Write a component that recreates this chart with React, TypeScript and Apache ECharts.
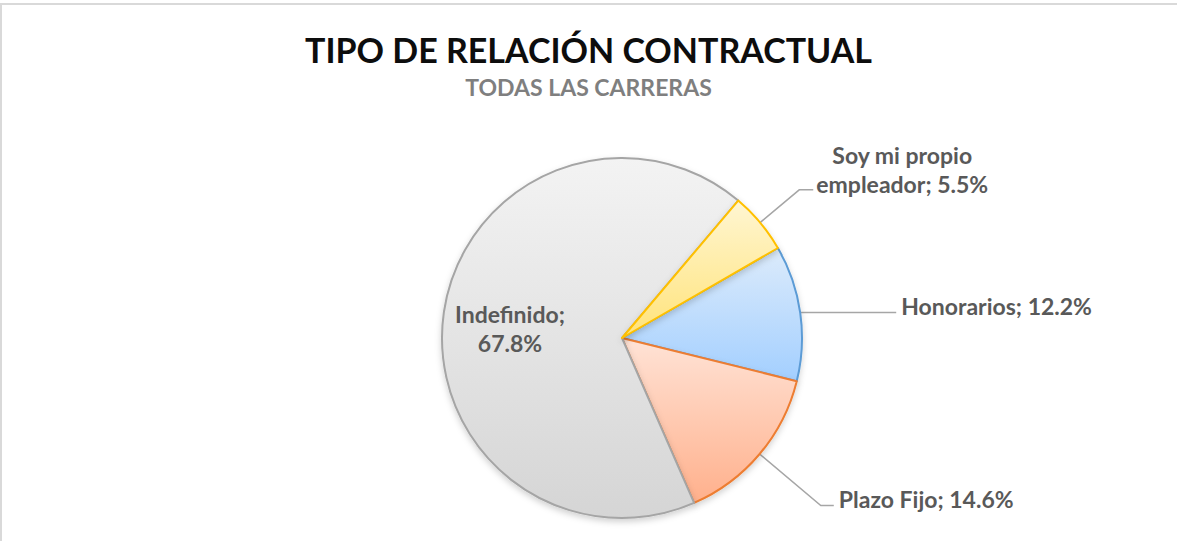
import React, { useEffect, useRef } from "react";
import * as echarts from "echarts";

const TITLE = "TIPO DE RELACIÓN CONTRACTUAL";
const SUBTITLE = "TODAS LAS CARRERAS";
// clockwise order, starting at Honorarios
const categories = ["Honorarios", "Plazo Fijo", "Indefinido", "Soy mi propio empleador"];
const values = [12.2, 14.6, 67.8, 5.5];
const topColors = ["#DCEBFB", "#FFE3D6", "#F3F3F3", "#FFF6D2"];
const bottomColors = ["#A3CFFF", "#FFB08C", "#D5D5D5", "#FFE37A"];
const borderColors = ["#5B9BD5", "#ED7D31", "#A5A5A5", "#FFC000"];

const FONT = "Lato, 'Open Sans', sans-serif";
const LABEL_COLOR = "#595959";

export default function App() {
  const ref = useRef<HTMLDivElement>(null);
  useEffect(() => {
    if (!ref.current) return;
    const chart = echarts.init(ref.current, null, { renderer: "svg" });

    const txt = {
      color: LABEL_COLOR,
      fontFamily: FONT,
      fontWeight: "bold",
      fontSize: 23,
      lineHeight: 29,
    };

    const itemLabels: any[] = [
      {
        label: {
          ...txt,
          position: "outside",
          formatter: (p: any) => `{t|${p.name}; ${p.value}%}\n{sp|}`,
          rich: { t: { ...txt }, sp: { ...txt, lineHeight: 14 } },
        },
        labelLine: { length: 1, length2: 95 },
      },
      {
        label: {
          ...txt,
          position: "outside",
          formatter: (p: any) => `{t|${p.name}; ${p.value}%}\n{sp|}`,
          rich: { t: { ...txt }, sp: { ...txt, lineHeight: 14 } },
        },
        labelLine: { length: 80, length2: 13 },
      },
      {
        label: {
          ...txt,
          position: "inside",
          align: "center",
          padding: [0, 40, 0, 0],
          formatter: (p: any) => `{sp|}\n{c|${p.name};}\n{c|${p.value}%}`,
          rich: { c: { ...txt, width: 120, align: "center" }, sp: { ...txt, lineHeight: 8 } },
        },
        labelLine: { show: false },
      },
      {
        label: {
          ...txt,
          position: "outside",
          formatter: (p: any) => `{c|Soy mi propio}\n{c|empleador; ${p.value}%}\n{sp|}`,
          rich: {
            c: { ...txt, width: 168, align: "center" },
            sp: { ...txt, lineHeight: 40 },
          },
        },
        labelLine: { length: 51, length2: 14 },
      },
    ];

    const data = categories.map((name, i) => ({
      name,
      value: values[i],
      itemStyle: {
        color: new echarts.graphic.LinearGradient(0, 0, 0, 1, [
          { offset: 0, color: topColors[i] },
          { offset: 1, color: bottomColors[i] },
        ]),
        borderColor: borderColors[i],
        borderWidth: 2,
      },
      ...itemLabels[i],
    }));

    chart.setOption({
      animation: false,
      backgroundColor: "#FFFFFF",
      title: {
        text: TITLE,
        subtext: SUBTITLE,
        left: "center",
        top: 27,
        itemGap: 9,
        textStyle: { fontFamily: FONT, fontWeight: "bold", fontSize: 34, color: "#0D0D0D" },
        subtextStyle: { fontFamily: FONT, fontWeight: "bold", fontSize: 23, color: "#7F7F7F" },
      },
      graphic: [
        {
          type: "rect",
          shape: { x: 1, y: 4, width: 1200, height: 600 },
          style: { fill: "none", stroke: "#D9D9D9", lineWidth: 2 },
          silent: true,
          z: -1,
        },
      ],
      series: [
        {
          type: "pie",
          center: [622, 338],
          radius: 180,
          startAngle: 30,
          clockwise: true,
          avoidLabelOverlap: false,
          labelLine: { lineStyle: { color: "#A6A6A6", width: 1.5 }, smooth: false },
          label: { distanceToLabelLine: 5 },
          emphasis: { disabled: true },
          itemStyle: { shadowBlur: 6, shadowColor: "rgba(0,0,0,0.18)", shadowOffsetY: 3 },
          data,
        },
      ],
    });
    return () => chart.dispose();
  }, []);
  return <div ref={ref} style={{ position: "absolute", left: 0, top: 0, width: 1177, height: 541 }} />;
}
